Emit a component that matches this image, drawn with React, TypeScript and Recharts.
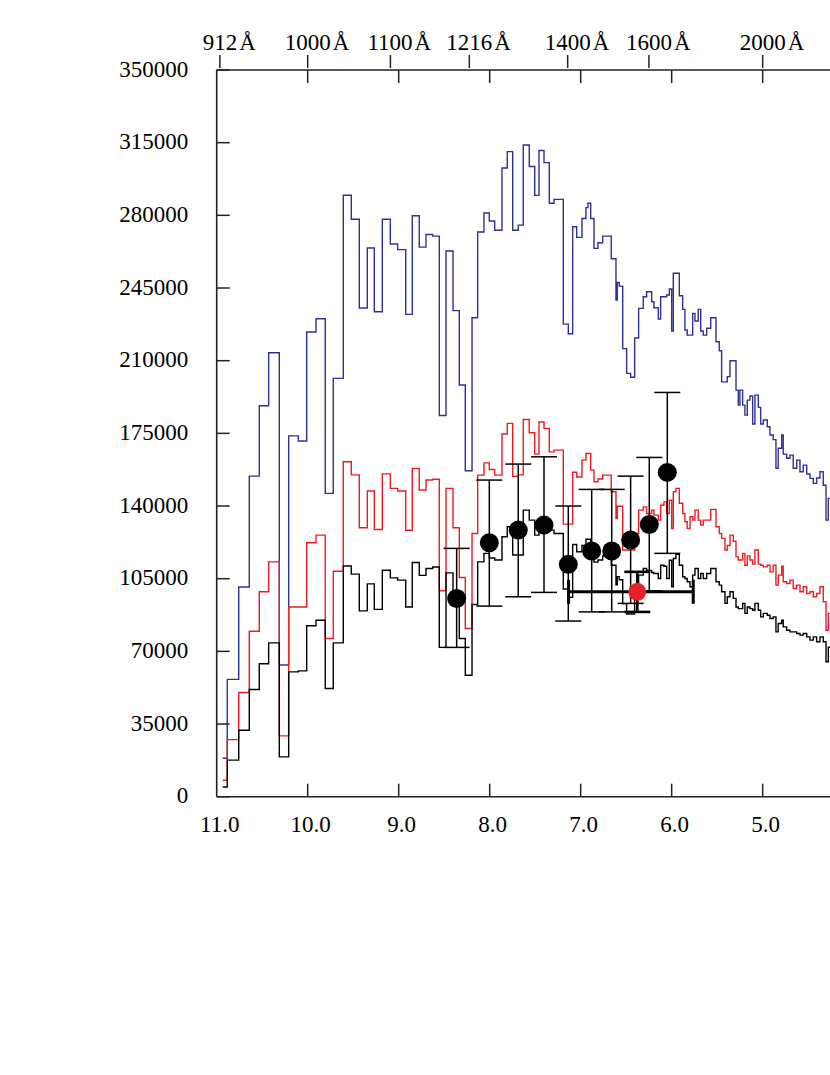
import React from 'react';
import { ComposedChart, Line, Scatter, ErrorBar, XAxis, YAxis } from 'recharts';

// Spectral bins: x = 1/lambda in micron^-1, left edge of each bin (plot runs 11 -> 4.26)
const binStartX = [
  10.934, 10.884, 10.758, 10.642, 10.532, 10.429, 10.312, 10.209, 10.103, 10.011,
  9.909, 9.807, 9.719, 9.609, 9.521, 9.433, 9.345, 9.268, 9.18, 9.092,
  9.011, 8.923, 8.851, 8.774, 8.7, 8.626, 8.554, 8.48, 8.403, 8.334,
  8.268, 8.194, 8.132, 8.063, 8.004, 7.945, 7.865, 7.807, 7.747, 7.686,
  7.631, 7.565, 7.505, 7.458, 7.403, 7.345, 7.293, 7.191, 7.136, 7.088,
  7.044, 6.986, 6.942, 6.92, 6.89, 6.854, 6.81, 6.758, 6.664, 6.612,
  6.598, 6.576, 6.538, 6.495, 6.451, 6.407, 6.363, 6.312, 6.275, 6.22,
  6.195, 6.147, 6.121, 6.085, 6.055, 6.026, 6.0, 5.982, 5.953, 5.916,
  5.879, 5.854, 5.829, 5.799, 5.769, 5.744, 5.708, 5.681, 5.653, 5.615,
  5.571, 5.513, 5.477, 5.451, 5.414, 5.389, 5.359, 5.323, 5.293, 5.268,
  5.25, 5.22, 5.195, 5.169, 5.14, 5.11, 5.085, 5.048, 5.022, 4.993,
  4.949, 4.92, 4.884, 4.854, 4.829, 4.791, 4.774, 4.736, 4.7, 4.664,
  4.626, 4.59, 4.554, 4.516, 4.48, 4.444, 4.407, 4.37, 4.334, 4.304,
  4.279,
];
const spectrumEndX = 4.26;

const blueFlux = [
  18500, 56500, 101000, 154400, 188300, 213800, 63400, 173800, 171300, 223800,
  230200, 146100, 201500, 289700, 278100, 235400, 264300, 233600, 278100, 266200,
  263500, 232300, 279800, 264700, 270800, 270000, 183600, 262800, 234100, 198300,
  157000, 230700, 272000, 281100, 277300, 272800, 302800, 310700, 272800, 275300,
  313900, 303500, 289600, 311200, 305400, 285800, 287700, 227600, 223000, 274500,
  269400, 278500, 283700, 285800, 278500, 264100, 266800, 270000, 259100, 239200,
  247700, 245900, 215800, 203900, 202000, 220900, 235200, 240800, 243200, 238400,
  235500, 230100, 240800, 240800, 241600, 244500, 224300, 252100, 252100, 241300,
  234700, 224800, 222300, 222300, 232800, 229100, 234700, 224300, 222300, 225600,
  230700, 219100, 214800, 199800, 199800, 202300, 210000, 210000, 195800, 188600,
  195800, 188600, 183800, 191000, 193000, 179500, 193400, 187500, 179500, 181400,
  178200, 174200, 172000, 158200, 167800, 174200, 165000, 163000, 164500, 158200,
  162100, 156500, 159700, 155400, 153300, 150900, 153500, 156500, 150000, 133200,
  143700,
];

const redFlux = [
  7950, 27500, 50200, 79700, 98700, 113100, 29300, 91400, 91400, 122300,
  126000, 76200, 108600, 161300, 155000, 129500, 147200, 128700, 155500, 148500,
  147200, 128300, 158100, 147700, 152500, 152900, 99200, 148500, 129500, 105600,
  81000, 126800, 154900, 160800, 157600, 154900, 174700, 179800, 154300, 155000,
  181700, 175300, 165000, 180500, 177400, 166100, 166900, 131300, 131300, 156300,
  154000, 162100, 165300, 165300, 157300, 151700, 153000, 154900, 146900, 134000,
  139900, 139900, 118800, 118800, 118800, 126800, 138000, 139600, 136400, 138000,
  135600, 133200, 140400, 142000, 136400, 142800, 129100, 146900, 148500, 141300,
  136400, 132400, 129100, 134800, 133200, 138000, 133200, 130800, 133200, 133200,
  138400, 130000, 126800, 124400, 118800, 121000, 126000, 123000, 115500, 114000,
  114000, 117200, 111500, 116000, 114000, 112000, 118800, 112000, 111500, 110700,
  111500, 108300, 111500, 101900, 106700, 111000, 103500, 102700, 104300, 100300,
  101900, 98700, 101100, 97900, 98700, 96300, 97900, 101100, 93900, 80200,
  88300,
];

const blackFlux = [
  4700, 17600, 32000, 51600, 64000, 74100, 19200, 60100, 60600, 82300,
  85000, 52100, 74100, 111100, 107200, 89500, 102500, 90200, 109100, 105400,
  104300, 91400, 112800, 106600, 109900, 110600, 71900, 107800, 92000, 76200,
  58500, 92600, 113100, 117200, 115000, 114000, 125200, 130000, 116400, 116400,
  138000, 133200, 126000, 132000, 130000, 128400, 126800, 100000, 96000, 121500,
  118000, 121000, 124000, 124000, 120000, 113000, 114000, 116000, 111500, 102000,
  106000, 104500, 93000, 88000, 88000, 97000, 106700, 109900, 109000, 108000,
  107500, 105100, 111500, 111000, 105100, 113900, 101100, 114700, 116800, 111500,
  105900, 105100, 103500, 101100, 106700, 109900, 105100, 107500, 105100, 107500,
  109900, 103500, 101900, 98700, 93100, 96300, 98700, 95500, 91400, 90600,
  90600, 93100, 88300, 91400, 90600, 89800, 93100, 89800, 86600, 88300,
  87400, 85800, 86600, 79400, 83400, 85000, 81800, 80200, 79400, 79400,
  78600, 77800, 78600, 77000, 75400, 77000, 74600, 77000, 74600, 65000,
  72000,
];

// Photometric points (black) with vertical error bars
const pointX = [8.363, 8.004, 7.686, 7.403, 7.136, 6.879, 6.659, 6.451, 6.246, 6.048];
const pointFlux = [95500, 122300, 128400, 130800, 111900, 118300, 118300, 123600, 131100, 156200];
const pointUpper = [119600, 152500, 160200, 163700, 140000, 148000, 148000, 154400, 163400, 194700];
const pointLower = [71900, 91800, 96300, 98400, 84600, 89000, 89000, 93100, 99200, 117200];

// Red point with horizontal (band) and vertical error bars
const redPointX = [6.378];
const redPointFlux = [98700];
const redPointXLow = [5.763];
const redPointXHigh = [7.133];
const redPointUpper = [108300];
const redPointLower = [89000];

const bottomTicks = [11, 10, 9, 8, 7, 6, 5];
const bottomTickLabels = ['11.0', '10.0', '9.0', '8.0', '7.0', '6.0', '5.0'];
const topWavelengths = [912, 1000, 1100, 1216, 1400, 1600, 2000];
const topTickLabels = ['912', '1000', '1100', '1216', '1400', '1600', '2000'];
const yTicks = [0, 35000, 70000, 105000, 140000, 175000, 210000, 245000, 280000, 315000, 350000];
const yTickLabels = ['0', '35000', '70000', '105000', '140000', '175000', '210000', '245000', '280000', '315000', '350000'];

const FONT = "'Liberation Serif', 'Times New Roman', Times, serif";
const FS = 23;
const AXIS = '#222';

const makeSeries = (flux: number[]) => {
  const rows = binStartX.map((x, i) => ({ x, v: flux[i] }));
  rows.push({ x: spectrumEndX, v: flux[flux.length - 1] });
  return rows;
};
const blueData = makeSeries(blueFlux);
const redData = makeSeries(redFlux);
const blackData = makeSeries(blackFlux);

const pointData = pointX.map((x, i) => ({
  x,
  v: pointFlux[i],
  err: [pointFlux[i] - pointLower[i], pointUpper[i] - pointFlux[i]],
}));
const redPointData = redPointX.map((x, i) => ({
  x,
  v: redPointFlux[i],
  errY: [redPointFlux[i] - redPointLower[i], redPointUpper[i] - redPointFlux[i]],
  errX: [x - redPointXLow[i], redPointXHigh[i] - x],
}));

const topAxisTicks = Array.from(
  new Set([
    ...topWavelengths.map((w) => +(1e4 / w).toFixed(4)),
    ...bottomTicks.filter((t) => t !== 11),
  ])
).sort((a, b) => b - a);

const BottomTick = (props: any) => {
  const { x, y, payload } = props;
  const i = bottomTicks.findIndex((t) => Math.abs(t - payload.value) < 1e-6);
  return (
    <g>
      {payload.value !== 11 && <line x1={x} y1={y} x2={x} y2={y - 13} stroke={AXIS} strokeWidth={1.5} />}
      <text x={x + 3} y={y + 35} textAnchor="middle" fontFamily={FONT} fontSize={FS} fill="#000">
        {i >= 0 ? bottomTickLabels[i] : ''}
      </text>
    </g>
  );
};

const TopTick = (props: any) => {
  const { x, y, payload } = props;
  const v = payload.value;
  const li = topWavelengths.findIndex((w) => Math.abs(1e4 / w - v) < 1e-3);
  const inner = bottomTicks.some((t) => t !== 11 && Math.abs(t - v) < 1e-6);
  return (
    <g>
      {inner && <line x1={x} y1={y} x2={x} y2={y + 13} stroke={AXIS} strokeWidth={1.5} />}
      {li >= 0 && <line x1={x} y1={y - 2} x2={x} y2={y - 15} stroke={AXIS} strokeWidth={1.5} />}
      {li >= 0 && (
        <text
          x={x - topTickLabels[li].length * FS * 0.25}
          y={y - 20}
          textAnchor="start"
          fontFamily={FONT}
          fontSize={FS}
          fill="#000"
        >
          {topTickLabels[li]}
          <tspan dx={2}>Å</tspan>
        </text>
      )}
    </g>
  );
};

const LeftTick = (props: any) => {
  const { x, y, payload } = props;
  const i = yTicks.findIndex((t) => t === payload.value);
  return (
    <g>
      <line x1={x} y1={y} x2={x + 13} y2={y} stroke={AXIS} strokeWidth={1.5} />
      <text x={x - 28.5} y={y + 6.5} textAnchor="end" fontFamily={FONT} fontSize={FS} fill="#000">
        {i >= 0 ? yTickLabels[i] : ''}
      </text>
    </g>
  );
};

const BlackDot = (props: any) => <circle cx={props.cx} cy={props.cy} r={9.5} fill="#000" />;
const RedDot = (props: any) => <circle cx={props.cx} cy={props.cy} r={9} fill="#e8202a" />;

export default function App() {
  return (
    <div style={{ position: 'absolute', left: 0, top: 0, width: 830, height: 1060, overflow: 'hidden' }}>
      <ComposedChart
        width={830}
        height={1060}
        margin={{ top: 8, right: 0, bottom: 223.3, left: 8 }}
        style={{ fontFamily: FONT }}
      >
        <XAxis
          xAxisId="bottom"
          dataKey="x"
          type="number"
          orientation="bottom"
          domain={[spectrumEndX, 11]}
          allowDataOverflow
          reversed
          ticks={bottomTicks}
          interval={0}
          height={40}
          tickSize={0}
          tickMargin={0}
          tickLine={false}
          tick={BottomTick}
          axisLine={{ stroke: AXIS, strokeWidth: 1.6 }}
        />
        <XAxis
          xAxisId="top"
          dataKey="x"
          type="number"
          orientation="top"
          domain={[spectrumEndX, 11]}
          allowDataOverflow
          reversed
          ticks={topAxisTicks}
          interval={0}
          height={62}
          tickSize={0}
          tickMargin={0}
          tickLine={false}
          tick={TopTick}
          axisLine={{ stroke: AXIS, strokeWidth: 1.6 }}
        />
        <YAxis
          yAxisId="left"
          dataKey="v"
          type="number"
          domain={[0, 350000]}
          allowDataOverflow
          ticks={yTicks}
          interval={0}
          width={208.7}
          tickSize={0}
          tickMargin={0}
          tickLine={false}
          tick={LeftTick}
          axisLine={{ stroke: AXIS, strokeWidth: 1.6 }}
        />
        <Line
          xAxisId="bottom"
          yAxisId="left"
          data={blueData}
          dataKey="v"
          type="stepAfter"
          stroke="#2f3196"
          strokeWidth={1.4}
          dot={false}
          activeDot={false}
          isAnimationActive={false}
        />
        <Line
          xAxisId="bottom"
          yAxisId="left"
          data={redData}
          dataKey="v"
          type="stepAfter"
          stroke="#ec1c24"
          strokeWidth={1.4}
          dot={false}
          activeDot={false}
          isAnimationActive={false}
        />
        <Line
          xAxisId="bottom"
          yAxisId="left"
          data={blackData}
          dataKey="v"
          type="stepAfter"
          stroke="#000"
          strokeWidth={1.4}
          dot={false}
          activeDot={false}
          isAnimationActive={false}
        />
        <Scatter
          xAxisId="bottom"
          yAxisId="left"
          data={pointData}
          dataKey="v"
          shape={BlackDot}
          isAnimationActive={false}
        >
          <ErrorBar dataKey="err" direction="y" width={13} stroke="#000" strokeWidth={1.5} isAnimationActive={false} />
        </Scatter>
        <Scatter
          xAxisId="bottom"
          yAxisId="left"
          data={redPointData}
          dataKey="v"
          shape={RedDot}
          isAnimationActive={false}
        >
          <ErrorBar dataKey="errX" direction="x" width={12} stroke="#000" strokeWidth={3} isAnimationActive={false} />
          <ErrorBar dataKey="errY" direction="y" width={13} stroke="#000" strokeWidth={2.6} isAnimationActive={false} />
        </Scatter>
      </ComposedChart>
    </div>
  );
}
